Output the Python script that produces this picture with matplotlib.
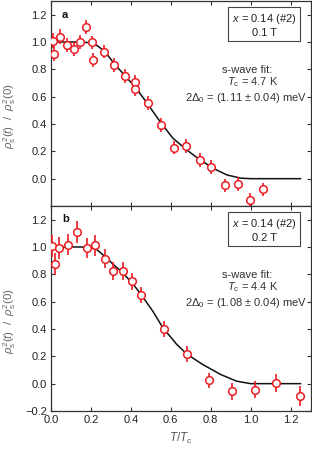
import matplotlib
matplotlib.use('Agg')
import matplotlib.pyplot as plt

plt.rcParams['font.family'] = ['Liberation Sans', 'DejaVu Sans']
plt.rcParams['mathtext.fontset'] = 'custom'
plt.rcParams['mathtext.rm'] = 'Liberation Sans'
plt.rcParams['mathtext.it'] = 'Liberation Sans:italic'
plt.rcParams['mathtext.bf'] = 'Liberation Sans:bold'

# panel a, 0.1 T
t_a = [0.012, 0.015, 0.047, 0.080, 0.114, 0.144, 0.176, 0.206, 0.208, 0.266, 0.315, 0.369,
       0.421, 0.422, 0.488, 0.553, 0.615, 0.677, 0.744, 0.804, 0.870, 0.937, 0.999, 1.064]
rho_a = [1.01, 0.914, 1.037, 0.98, 0.951, 1.0, 1.11, 0.997, 0.87, 0.93, 0.833, 0.75,
         0.708, 0.654, 0.556, 0.392, 0.228, 0.24, 0.135, 0.085, -0.049, -0.037, -0.154, -0.079]
err_a = [0.055, 0.055, 0.055, 0.05, 0.05, 0.05, 0.05, 0.05, 0.05, 0.05, 0.05, 0.05,
         0.05, 0.05, 0.05, 0.05, 0.05, 0.05, 0.05, 0.05, 0.05, 0.05, 0.05, 0.05]
fit_t_a = [0.0, 0.05, 0.10, 0.15, 0.19, 0.23, 0.27, 0.32, 0.37, 0.43, 0.48, 0.55, 0.61,
           0.68, 0.74, 0.81, 0.88, 0.95, 1.0, 1.25]
fit_a = [1.0, 1.0, 1.0, 1.0, 0.995, 0.975, 0.93, 0.835, 0.755, 0.655, 0.555, 0.41, 0.297,
         0.21, 0.145, 0.078, 0.028, 0.004, 0.0, 0.0]

# panel b, 0.2 T
t_b = [0.007, 0.019, 0.042, 0.087, 0.131, 0.178, 0.218, 0.271, 0.313, 0.360, 0.407, 0.451,
       0.565, 0.679, 0.791, 0.908, 1.021, 1.128, 1.247]
rho_b = [1.004, 0.878, 0.993, 1.017, 1.11, 0.993, 1.012, 0.914, 0.822, 0.822, 0.748, 0.649,
         0.40, 0.217, 0.024, -0.056, -0.044, 0.005, -0.088]
err_b = [0.08, 0.08, 0.08, 0.075, 0.08, 0.075, 0.075, 0.07, 0.065, 0.065, 0.06, 0.06,
         0.057, 0.057, 0.057, 0.06, 0.06, 0.065, 0.073]
fit_t_b = [0.0, 0.05, 0.10, 0.15, 0.20, 0.23, 0.27, 0.31, 0.36, 0.41, 0.45, 0.51, 0.56,
           0.63, 0.68, 0.76, 0.85, 0.93, 1.0, 1.25]
fit_b = [1.0, 1.0, 1.0, 1.0, 0.995, 0.98, 0.93, 0.875, 0.81, 0.73, 0.655, 0.53, 0.41,
         0.287, 0.217, 0.14, 0.067, 0.018, 0.0, 0.0]

panels = [
	('a', '0.1 T', '4.7', '1.11', t_a, rho_a, err_a, fit_t_a, fit_a),
	('b', '0.2 T', '4.4', '1.08', t_b, rho_b, err_b, fit_t_b, fit_b),
]

red = '#ec1c24'
txt = '#333333'

fig = plt.figure(figsize=(3.12, 4.5), dpi=100)
ax_top = fig.add_axes([0.1635, 0.5422, 0.8317, 0.4556])
ax_bot = fig.add_axes([0.1635, 0.0867, 0.8317, 0.4556])

for ax, (tag, field, tc, gap, t, rho, err, ft, fv) in zip([ax_top, ax_bot], panels):
	ax.plot(ft, fv, color='#111111', lw=1.1, zorder=2)
	ax.errorbar(t, rho, yerr=err, fmt='o', ms=5.5, mfc='white', mec=red, mew=1.1,
	            ecolor=red, elinewidth=1.2, capsize=0, zorder=3)

	ax.set_xlim(0, 1.3)
	ax.set_ylim(-0.2, 1.3)
	ax.set_xticks([0.0, 0.2, 0.4, 0.6, 0.8, 1.0, 1.2])
	ax.tick_params(direction='in', top=True, right=True, length=3, width=0.8,
	               labelsize=8, labelcolor='#222222', color='#333333', pad=3)
	for s in ax.spines.values():
		s.set_color('#333333')
		s.set_linewidth(0.9)

	ax.set_ylabel(r'$\rho_\mathrm{s}^2(t)$  /  $\rho_\mathrm{s}^2(0)$', fontsize=8.2,
	              color='#666666')
	ax.yaxis.set_label_coords(-0.128, 0.44)

	ax.text(0.042, 0.934, tag, transform=ax.transAxes, fontsize=8, fontweight='bold',
	        ha='left', va='center', color='#111111')
	ax.text(0.821, 0.883, '$x$ = 0.14 (#2)\n' + field, transform=ax.transAxes,
	        fontsize=8, ha='center', va='center', multialignment='center', color='#222222',
	        bbox=dict(boxstyle='square,pad=0.3', fc='white', ec='#444444', lw=0.8))
	ax.text(0.755, 0.661, 's-wave fit:', transform=ax.transAxes, fontsize=8,
	        ha='center', va='center', color=txt)
	ax.text(0.778, 0.605, r'$T_\mathrm{c}$ = ' + tc + ' K', transform=ax.transAxes,
	        fontsize=8, ha='center', va='center', color=txt)
	ax.text(0.7495, 0.529, '2Δ$_0$ = (' + gap + ' ± 0.04) meV', transform=ax.transAxes,
	        fontsize=8, ha='center', va='center', color=txt)

ax_top.set_yticks([0.0, 0.2, 0.4, 0.6, 0.8, 1.0, 1.2])
ax_top.tick_params(labelbottom=False)
ax_bot.set_yticks([-0.2, 0.0, 0.2, 0.4, 0.6, 0.8, 1.0, 1.2])
ax_bot.set_xlabel(r'$T$/$T_\mathrm{c}$', fontsize=8.5, color='#555555', labelpad=4)

plt.savefig('out.png', dpi=100)
plt.close()
